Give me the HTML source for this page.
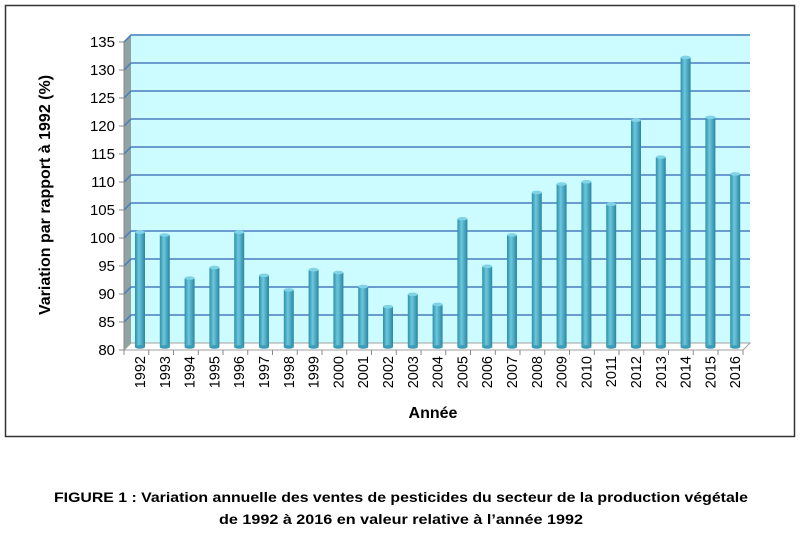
<!DOCTYPE html>
<html><head><meta charset="utf-8"><style>
body{margin:0;background:#fff;width:803px;height:537px;overflow:hidden;font-family:"Liberation Sans",sans-serif}
</style></head><body>
<svg width="803" height="537" xmlns="http://www.w3.org/2000/svg" font-family="Liberation Sans, sans-serif">
<defs>
<linearGradient id="bar" x1="0" x2="1" y1="0" y2="0">
<stop offset="0" stop-color="#2c8fa8"/><stop offset="0.4" stop-color="#6cc8de"/><stop offset="1" stop-color="#2a86a0"/>
</linearGradient>
</defs>
<rect x="5.5" y="5.5" width="789" height="431" fill="#fff" stroke="#333" stroke-width="1.5"/>
<polygon points="124,41 131,34 131,343 124,350" fill="#8fa3a3"/>
<rect x="131" y="34" width="619" height="309" fill="#ccfcff"/>
<polygon points="124,350 131,343 750,343 743,350" fill="#fff" stroke="#a0a0a0" stroke-width="1"/>
<g id="grid" stroke="#4a7cc0" stroke-width="1.5" fill="none"></g>
<g id="axis" font-size="15" fill="#000" text-anchor="end"></g>
<g id="bars"></g>
<g id="xl" font-size="14.5"></g>
<text x="433" y="418" font-size="16" font-weight="bold" text-anchor="middle">Année</text>
<text transform="translate(50,195) rotate(-90)" font-size="16" font-weight="bold" text-anchor="middle">Variation par rapport à 1992 (%)</text>
<text x="401" y="502" font-size="14" font-weight="bold" text-anchor="middle" textLength="694" lengthAdjust="spacingAndGlyphs">FIGURE 1 : Variation annuelle des ventes de pesticides du secteur de la production végétale</text>
<text x="401" y="524" font-size="14" font-weight="bold" text-anchor="middle" textLength="364" lengthAdjust="spacingAndGlyphs">de 1992 à 2016 en valeur relative à l’année 1992</text>
</svg>
<script>
var ns="http://www.w3.org/2000/svg";
function el(t,a,p,txt){var e=document.createElementNS(ns,t);for(var k in a)e.setAttribute(k,a[k]);if(txt!=null)e.textContent=txt;document.getElementById(p).appendChild(e);return e;}
for(var v=80;v<=135;v+=5){var yb=343-(v-80)*5.6,yf=yb+7;
 if(v>80){el("polyline",{points:"124,"+yf+" 131,"+yb+" 750,"+yb},"grid");}
 el("line",{x1:119,y1:yf,x2:124,y2:yf,stroke:"#888"},"axis");
 el("text",{x:115,y:yf+5},"axis",v);}
el("line",{x1:124,y1:41,x2:124,y2:350,stroke:"#888"},"axis");
var vals=[100.5,100,92.3,94.2,100.5,92.8,90.2,93.8,93.3,90.8,87.2,89.4,87.6,102.9,94.4,100,107.6,109.1,109.5,105.5,120.5,113.9,131.7,121,110.9];
for(var i=0;i<25;i++){var cx=140+i*24.8,ty=347-(vals[i]-80)*5.6;
 el("rect",{x:cx-5,y:ty,width:10,height:347-ty,fill:"url(#bar)"},"bars");
 el("ellipse",{cx:cx,cy:ty,rx:5,ry:1.8,fill:"#7fd3e6"},"bars");
 el("ellipse",{cx:cx,cy:347,rx:5,ry:1.8,fill:"#3a9cb6"},"bars");
 var tx=124+i*24.75;el("line",{x1:tx,y1:350,x2:tx,y2:355,stroke:"#888"},"xl");
 el("text",{transform:"translate("+(cx+5)+",356) rotate(-90)","text-anchor":"end"},"xl",1992+i);}
el("line",{x1:743,y1:350,x2:743,y2:355,stroke:"#888"},"xl");
</script>
</body></html>
